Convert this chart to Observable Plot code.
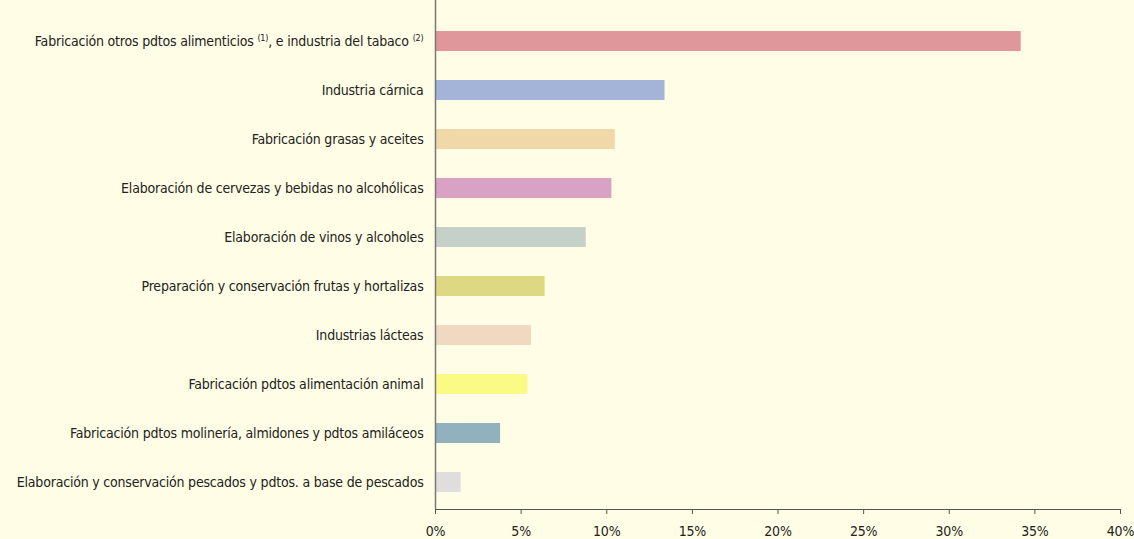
<!DOCTYPE html>
<html>
<head>
<meta charset="utf-8">
<script src="https://cdn.jsdelivr.net/npm/d3@7"></script>
<script src="https://cdn.jsdelivr.net/npm/@observablehq/plot@0.6"></script>
<style>
  html, body { margin: 0; padding: 0; background: #fffde5; }
  #chart svg { display: block; }
  #chart svg text { letter-spacing: -0.2px; }
</style>
</head>
<body>
<div id="chart"></div>
<script>
const categories = [
  "Fabricación otros pdtos alimenticios (1), e industria del tabaco (2)",
  "Industria cárnica",
  "Fabricación grasas y aceites",
  "Elaboración de cervezas y bebidas no alcohólicas",
  "Elaboración de vinos y alcoholes",
  "Preparación y conservación frutas y hortalizas",
  "Industrias lácteas",
  "Fabricación pdtos alimentación animal",
  "Fabricación pdtos molinería, almidones y pdtos amiláceos",
  "Elaboración y conservación pescados y pdtos. a base de pescados"
];
const values = [34.2, 13.4, 10.5, 10.3, 8.8, 6.4, 5.6, 5.4, 3.8, 1.5];
const colors = ["#e0979b", "#a3b4d8", "#f0d8a8", "#d9a2c5", "#c5d0c9", "#dcd982", "#f1d8c0", "#fafa85", "#92b1bf", "#e0dedc"];
const xTicks = [0, 5, 10, 15, 20, 25, 30, 35, 40];

const data = categories.map((c, i) => ({category: c, value: values[i], color: colors[i]}));
const font = "'Liberation Sans Narrow', 'DejaVu Sans Condensed', sans-serif";

const chart = Plot.plot({
  width: 1134,
  height: 539,
  marginTop: 0,
  marginLeft: 435,
  marginRight: 14,
  marginBottom: 30,
  style: {background: "#fffde5", fontFamily: font, fontSize: "14px", color: "#222"},
  x: {domain: [0, 40], ticks: xTicks, label: null},
  y: {domain: categories, range: [14, 509], paddingInner: 0.596, paddingOuter: 0.298, label: null},
  marks: [
    Plot.barX(data, {x: "value", y: "category", fill: "color"}),
    Plot.ruleX([0], {stroke: "#777", strokeWidth: 1.5}),
    Plot.frame({anchor: "bottom", stroke: "#555", strokeWidth: 1}),
    Plot.axisX({ticks: xTicks, tickSize: 5, tickPadding: 12, tickFormat: d => d + "%", stroke: "#555", fill: "#222", fontSize: 14, label: null}),
    Plot.axisY({tickSize: 0, tickPadding: 12, fill: "#222", fontSize: 14, label: null})
  ]
});
document.getElementById("chart").appendChild(chart);

// superscript markers on the first label
chart.querySelectorAll("text").forEach(t => {
  if (t.textContent === categories[0]) {
    t.textContent = "";
    const parts = [["Fabricación otros pdtos alimenticios ", false], ["(1)", true], [", e industria del tabaco ", false], ["(2)", true]];
    for (const [s, sup] of parts) {
      const ts = document.createElementNS("http://www.w3.org/2000/svg", "tspan");
      ts.textContent = s;
      if (sup) { ts.setAttribute("font-size", "9"); ts.setAttribute("dy", "-5"); }
      else if (s.startsWith(",")) { ts.setAttribute("dy", "5"); }
      t.appendChild(ts);
    }
  }
});
</script>
</body>
</html>
